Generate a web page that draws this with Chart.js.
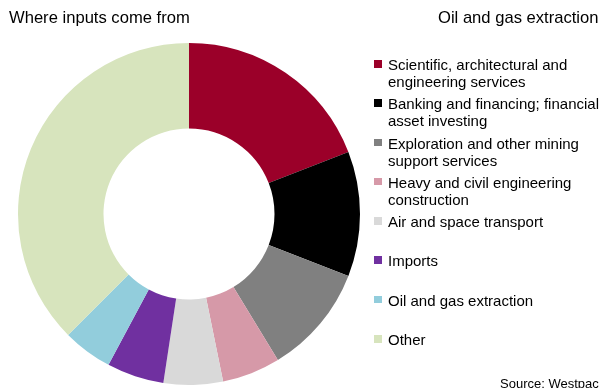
<!DOCTYPE html>
<html>
<head>
<meta charset="utf-8">
<script src="https://cdn.jsdelivr.net/npm/chart.js@4"></script>
<style>
  body { margin: 0; background: #fff; }
  .wrap { position: relative; width: 601px; height: 388px; overflow: hidden;
          font-family: "Liberation Sans", Arial, sans-serif; color: #000; }
  canvas { position: absolute; left: 0; top: 0; }
  .title { position: absolute; top: 8px; font-size: 16.6px; line-height: 20px; white-space: nowrap; }
  .legend { position: absolute; left: 374px; top: 56px; }
  .item { position: relative; height: 39.3px; font-size: 15px; line-height: 17px;
          white-space: pre-line; padding-left: 14px; }
  .box { position: absolute; left: 0; top: 4px; width: 7.5px; height: 7.5px; }
  .source { position: absolute; left: 500px; top: 376px; font-size: 13px; white-space: nowrap; }
</style>
</head>
<body>
<div class="wrap">
  <canvas id="chart" width="601" height="388"></canvas>
  <div class="title" style="left:9px">Where inputs come from</div>
  <div class="title" style="left:438px">Oil and gas extraction</div>
  <div class="legend" id="legend"></div>
  <div class="source">Source: Westpac</div>
</div>
<script>
const categories = [
  "Scientific, architectural and\nengineering services",
  "Banking and financing; financial\nasset investing",
  "Exploration and other mining\nsupport services",
  "Heavy and civil engineering\nconstruction",
  "Air and space transport",
  "Imports",
  "Oil and gas extraction",
  "Other",
];
// share of inputs, %
const shares = [19.1, 11.8, 10.4, 5.5, 5.6, 5.4, 4.7, 37.5];
const colors = [
  "#9b0029", "#000000", "#808080", "#d699a8",
  "#d9d9d9", "#7030a0", "#92cddc", "#d7e4bd",
];

new Chart(document.getElementById("chart"), {
  type: "doughnut",
  data: {
    labels: categories,
    datasets: [
      {
        data: shares,
        backgroundColor: colors,
        borderWidth: 0,
      },
    ],
  },
  options: {
    responsive: false,
    animation: false,
    devicePixelRatio: 1,
    cutout: "50%",
    layout: {
      padding: { left: 18, right: 241, top: 43, bottom: 3 },
    },
    plugins: {
      legend: { display: false },
      tooltip: { enabled: false },
    },
  },
});

// legend as html text, one row per category
const legend = document.getElementById("legend");
categories.forEach((label, i) => {
  const item = document.createElement("div");
  item.className = "item";
  const box = document.createElement("span");
  box.className = "box";
  box.style.background = colors[i];
  item.appendChild(box);
  item.appendChild(document.createTextNode(label));
  legend.appendChild(item);
});
</script>
</body>
</html>
